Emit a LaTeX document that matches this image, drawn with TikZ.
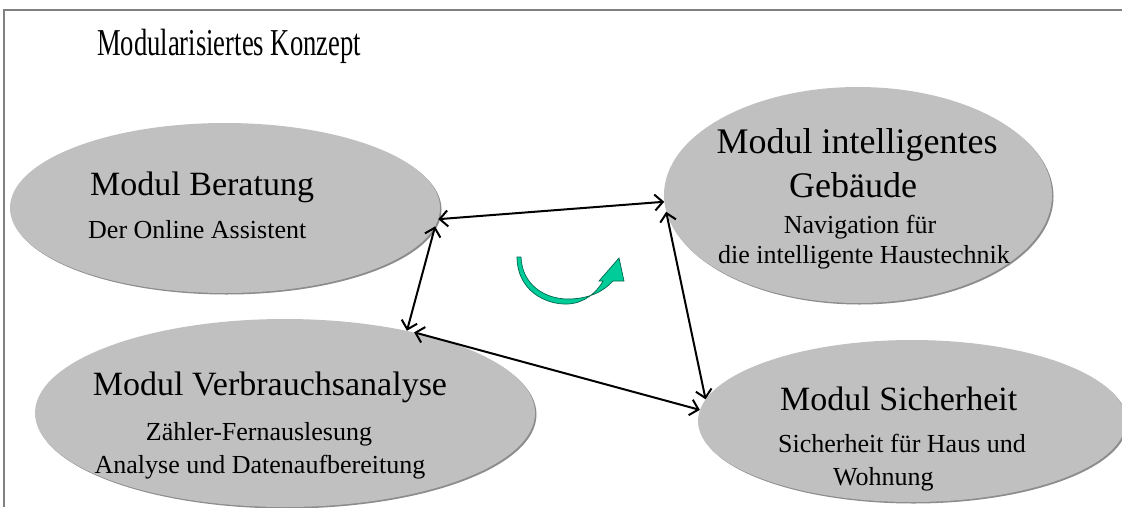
\documentclass[tikz,border=0pt]{standalone}
\usepackage{fontspec}
\usepackage{graphicx}
\setmainfont{Liberation Serif}
\usetikzlibrary{shapes.geometric,arrows.meta}
\definecolor{ellfill}{HTML}{C0C0C0}
\definecolor{ellshadow}{HTML}{8C8C8C}
\definecolor{framegray}{HTML}{808080}
\definecolor{arrgreen}{HTML}{00CC99}
\definecolor{arrgreendark}{HTML}{00664D}
\tikzset{
  modul/.style={ellipse, fill=ellfill, inner sep=0pt},
  modshadow/.style={ellipse, fill=ellshadow, inner sep=0pt},
  big/.style={font=\fontsize{34}{40}\selectfont, inner sep=0pt},
  small/.style={font=\fontsize{26}{30}\selectfont, inner sep=0pt},
  link/.style={line width=2pt, black, {Straight Barb[length=8pt,width=16pt]}-{Straight Barb[length=8pt,width=16pt]}},
}
\begin{document}
\begin{tikzpicture}[x=1pt,y=-1pt]
\useasboundingbox (0,0) rectangle (1122,507);
% frame
\draw[framegray, line width=1.4pt] (4,507) -- (4,10) -- (1122,10);
% title
\node[big, font=\fontsize{38}{44}\selectfont, anchor=base west] (title) at (97,55) {\scalebox{0.70}[1]{Modularisiertes Konzept}};
% shadows
\node[modshadow, minimum width=430pt, minimum height=170pt] at (226.5,209.5) {};
\node[modshadow, minimum width=388pt, minimum height=216pt] at (859.5,196.5) {};
\node[modshadow, minimum width=500pt, minimum height=188pt] at (286.5,414.5) {};
\node[modshadow, minimum width=428pt, minimum height=162pt] at (913.5,422.5) {};
% ellipses
\node[modul, minimum width=430pt, minimum height=170pt] (ber) at (225,208) {};
\node[modul, minimum width=388pt, minimum height=216pt] (geb) at (858,195) {};
\node[modul, minimum width=500pt, minimum height=188pt] (verb) at (285,413) {};
\node[modul, minimum width=428pt, minimum height=162pt] (sich) at (912,421) {};
% texts
\node[big, anchor=base west] (bert1) at (90,195) {Modul Beratung};
\node[small, anchor=base west] (bert2) at (88,238) {Der Online Assistent};
\node[big, font=\fontsize{36}{42}\selectfont, anchor=base] (gebt1) at (857,153) {Modul intelligentes};
\node[big, font=\fontsize{36}{42}\selectfont, anchor=base] (gebt2) at (853,197) {Gebäude};
\node[small, anchor=base] (gebt3) at (860,233) {Navigation für};
\node[small, anchor=base] (gebt4) at (864,263) {die intelligente Haustechnik};
\node[big, anchor=base] (verbt1) at (270,395) {Modul Verbrauchsanalyse};
\node[small, anchor=base] (verbt2) at (259,440) {Zähler-Fernauslesung};
\node[small, anchor=base] (verbt3) at (260,473) {Analyse und Datenaufbereitung};
\node[big, anchor=base west] (sicht1) at (780,410) {Modul Sicherheit};
\node[small, anchor=base west] (sicht2) at (778,452) {Sicherheit für Haus und};
\node[small, anchor=base west] (sicht3) at (833,485) {Wohnung};
% connectors
\draw[link] (ber.-3) -- (geb.182);
\draw[link] (ber.-5) -- (verb.34);
\draw[link] (verb.32) -- (sich.177);
\draw[link] (geb.185) -- (sich.174);
% green rotation arrow
\filldraw[fill=arrgreen, draw=arrgreendark, line width=0.7pt]
  (517,257) .. controls (517,290) and (545,305) .. (568,304)
  .. controls (585,303) and (597,292) .. (603,281)
  -- (599,281) -- (619,258) -- (624,281) -- (613,281)
  .. controls (603,292) and (588,299) .. (568,299)
  .. controls (545,299) and (522,285) .. (521,257) -- cycle;
\end{tikzpicture}
\end{document}
